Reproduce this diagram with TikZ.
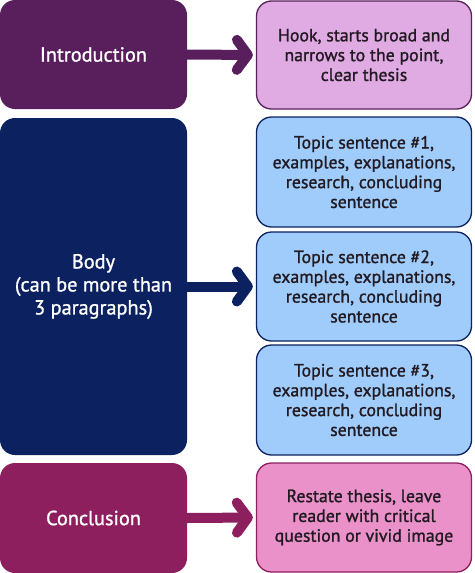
\documentclass[tikz,border=0pt]{standalone}
\usepackage{fontspec}
\setmainfont{PT Sans}[FakeBold=1.2, BoldFont=PT Sans]
\usetikzlibrary{arrows.meta}
\definecolor{introC}{HTML}{591F5C}
\definecolor{hookC}{HTML}{E0AAE2}
\definecolor{bodyC}{HTML}{0B2160}
\definecolor{topicC}{HTML}{9FCCFA}
\definecolor{conclC}{HTML}{8E1F5E}
\definecolor{restC}{HTML}{E991C8}
\definecolor{txtC}{HTML}{221A22}
\tikzset{
  leftbox/.style={rectangle, rounded corners=15pt, minimum width=187pt, inner sep=0pt,
    text=white, align=center, font=\fontsize{20.3}{23}\selectfont},
  rightbox/.style={rectangle, rounded corners=15pt, minimum width=215pt, inner sep=0pt,
    text=txtC, align=center, line width=1.3pt, font=\fontsize{17.8}{19.8}\selectfont},
  conn/.style={line width=10pt, -{Straight Barb[length=11pt,width=30pt,round]}, shorten >=3pt}
}
\begin{document}
\begin{tikzpicture}[x=1pt,y=-1pt]
\useasboundingbox (0,0) rectangle (474,573);
\node[leftbox, fill=introC, minimum height=109pt] (intro) at (93.5,54.5) {Introduction};
\node[rightbox, fill=hookC, draw=introC, minimum height=108pt] (hook) at (364,55) {Hook, starts broad and\\narrows to the point,\\clear thesis};
\node[leftbox, fill=bodyC, minimum height=337pt] (body) at (93.5,286.5) {Body\\(can be more than\\3 paragraphs)};
\node[rightbox, fill=topicC, draw=bodyC, minimum height=110pt] (t1) at (364,172) {Topic sentence \#1,\\examples, explanations,\\research, concluding\\sentence};
\node[rightbox, fill=topicC, draw=bodyC, minimum height=109pt] (t2) at (364,286.5) {Topic sentence \#2,\\examples, explanations,\\research, concluding\\sentence};
\node[rightbox, fill=topicC, draw=bodyC, minimum height=110pt] (t3) at (364,400) {Topic sentence \#3,\\examples, explanations,\\research, concluding\\sentence};
\node[leftbox, fill=conclC, minimum height=110pt] (concl) at (93.5,518) {Conclusion};
\node[rightbox, fill=restC, draw=conclC, minimum height=109pt] (rest) at (364,517.5) {Restate thesis, leave\\reader with critical\\question or vivid image};
\draw[conn, introC] (intro.east) -- (hook.west);
\draw[conn, bodyC] (body.east) -- (t2.west);
\draw[conn, conclC] (concl.east) -- (rest.west);
\end{tikzpicture}
\end{document}
